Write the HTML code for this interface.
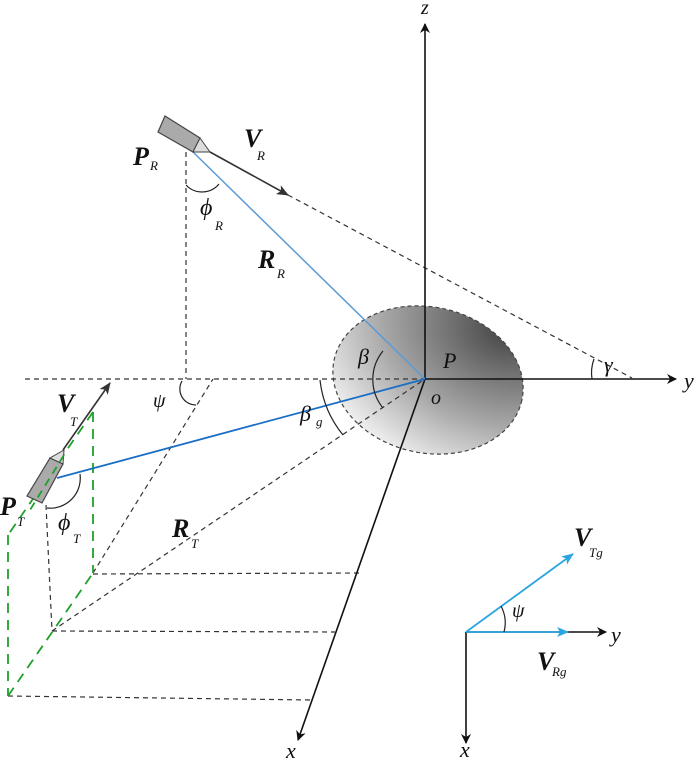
<!DOCTYPE html>
<html><head><meta charset="utf-8"><style>
html,body{margin:0;padding:0;background:#fff;}
svg{display:block;}
text{font-family:"Liberation Serif",serif;font-style:italic;fill:#111;}
.b{font-weight:bold;}
</style></head><body>
<svg width="700" height="763" viewBox="0 0 700 763" xmlns="http://www.w3.org/2000/svg">
<defs>
<radialGradient id="g" cx="0.85" cy="0.05" r="1.1">
<stop offset="0" stop-color="#444"/><stop offset="0.6" stop-color="#a8a8a8"/><stop offset="1" stop-color="#f4f4f4"/>
</radialGradient>
<marker id="ak" markerWidth="10" markerHeight="10" refX="9" refY="5" orient="auto" markerUnits="userSpaceOnUse"><path d="M0,0 L10,5 L0,10 L3,5z" fill="#111"/></marker>
<marker id="ag" markerWidth="12" markerHeight="10" refX="11" refY="5" orient="auto" markerUnits="userSpaceOnUse"><path d="M0,0 L12,5 L0,10 L3,5z" fill="#333"/></marker>
<marker id="ab" markerWidth="12" markerHeight="10" refX="11" refY="5" orient="auto" markerUnits="userSpaceOnUse"><path d="M0,0 L12,5 L0,10 L3,5z" fill="#2aa5e0"/></marker>
</defs>
<ellipse cx="428" cy="380" rx="96" ry="73" transform="rotate(12 428 380)" fill="url(#g)" stroke="#444" stroke-dasharray="4,3" stroke-width="1.2"/>
<g stroke="#333" stroke-width="1.2" stroke-dasharray="5,4" fill="none">
<line x1="25" y1="379" x2="425" y2="379"/>
<line x1="186" y1="152" x2="186" y2="379"/>
<line x1="288" y1="195" x2="632" y2="378"/>
<line x1="93" y1="573" x2="213" y2="379"/>
<line x1="52" y1="631" x2="425" y2="379"/>
<line x1="46" y1="505" x2="52" y2="631"/>
<line x1="93" y1="574" x2="360" y2="573"/>
<line x1="52" y1="631" x2="335" y2="632"/>
<line x1="8" y1="696" x2="312" y2="700"/>
</g>
<g stroke="#1fa02a" stroke-width="1.8" stroke-dasharray="10,7" fill="none">
<line x1="93" y1="412" x2="8" y2="535"/>
<line x1="8" y1="535" x2="8" y2="696"/>
<line x1="8" y1="696" x2="93" y2="573"/>
<line x1="93" y1="412" x2="93" y2="573"/>
</g>
<g stroke="#111" stroke-width="1.6">
<line x1="425" y1="379" x2="425" y2="24" marker-end="url(#ak)"/>
<line x1="425" y1="379" x2="676" y2="379" marker-end="url(#ak)"/>
<line x1="425" y1="379" x2="298" y2="740" marker-end="url(#ak)"/>
<line x1="466" y1="632" x2="606" y2="632" marker-end="url(#ak)"/>
<line x1="466" y1="632" x2="466" y2="743" marker-end="url(#ak)"/>
</g>
<line x1="193" y1="152" x2="425" y2="379" stroke="#5b9bd5" stroke-width="1.5"/>
<line x1="57" y1="478" x2="425" y2="379" stroke="#1a6fc4" stroke-width="1.8"/>
<line x1="210" y1="152" x2="288" y2="195" stroke="#333" stroke-width="1.6" marker-end="url(#ag)"/>
<line x1="63" y1="450" x2="110" y2="383" stroke="#333" stroke-width="1.6" marker-end="url(#ag)"/>
<line x1="466" y1="632" x2="573" y2="554" stroke="#2aa5e0" stroke-width="1.8" marker-end="url(#ab)"/>
<line x1="466" y1="632" x2="568" y2="632" stroke="#2aa5e0" stroke-width="1.8" marker-end="url(#ab)"/>
<polygon points="165,116 200,138 193,152 158,132" fill="#aaa" stroke="#444" stroke-width="1.2"/>
<polygon points="200,138 210,152 193,152" fill="#ddd" stroke="#444" stroke-width="1"/>
<polygon points="50,458 63,464 42,503 27,496" fill="#aaa" stroke="#444" stroke-width="1.2"/>
<polygon points="50,458 63,464 64,450" fill="#ddd" stroke="#444" stroke-width="1"/>
<line x1="64" y1="455" x2="30" y2="510" stroke="#1fa02a" stroke-width="1.8" stroke-dasharray="8,6"/>
<g stroke="#222" stroke-width="1.2" fill="none">
<path d="M186,185 A22,22 0 0 0 219,184"/>
<path d="M47,508 A30,30 0 0 0 80,474"/>
<path d="M182,381 A16,16 0 0 0 196,405"/>
<path d="M383,351 A45,45 0 0 0 383,408"/>
<path d="M320,380 A105,105 0 0 0 343,435"/>
<path d="M594,359 A40,40 0 0 0 592,379"/>
<path d="M501,606 A36,36 0 0 1 504,632"/>
</g>
<text x="421" y="14" font-size="20">z</text>
<text x="684" y="388" font-size="22">y</text>
<text x="286" y="758" font-size="22">x</text>
<text x="443" y="368" font-size="22">P</text>
<text x="431" y="404" font-size="20">o</text>
<text x="358" y="364" font-size="22">β</text>
<text x="604" y="372" font-size="22">γ</text>
<text x="300" y="421" font-size="22">β</text><text x="316" y="426" font-size="13">g</text>
<text x="153" y="407" font-size="20">ψ</text>
<text x="512" y="617" font-size="20">ψ</text>
<text x="133" y="165" font-size="26" class="b">P</text><text x="150" y="170" font-size="13">R</text>
<text x="244" y="147" font-size="26" class="b">V</text><text x="257" y="160" font-size="13">R</text>
<text x="200" y="215" font-size="24">ϕ</text><text x="215" y="230" font-size="13">R</text>
<text x="258" y="268" font-size="26" class="b">R</text><text x="277" y="278" font-size="13">R</text>
<text x="57" y="412" font-size="26" class="b">V</text><text x="70" y="426" font-size="13">T</text>
<text x="0" y="515" font-size="26" class="b">P</text><text x="17" y="526" font-size="13">T</text>
<text x="58" y="530" font-size="24">ϕ</text><text x="73" y="543" font-size="13">T</text>
<text x="172" y="537" font-size="26" class="b">R</text><text x="191" y="548" font-size="13">T</text>
<text x="574" y="546" font-size="26" class="b">V</text><text x="589" y="557" font-size="13">Tg</text>
<text x="537" y="670" font-size="26" class="b">V</text><text x="552" y="676" font-size="13">Rg</text>
<text x="611" y="642" font-size="22">y</text>
<text x="460" y="757" font-size="22">x</text>
</svg>
</body></html>
